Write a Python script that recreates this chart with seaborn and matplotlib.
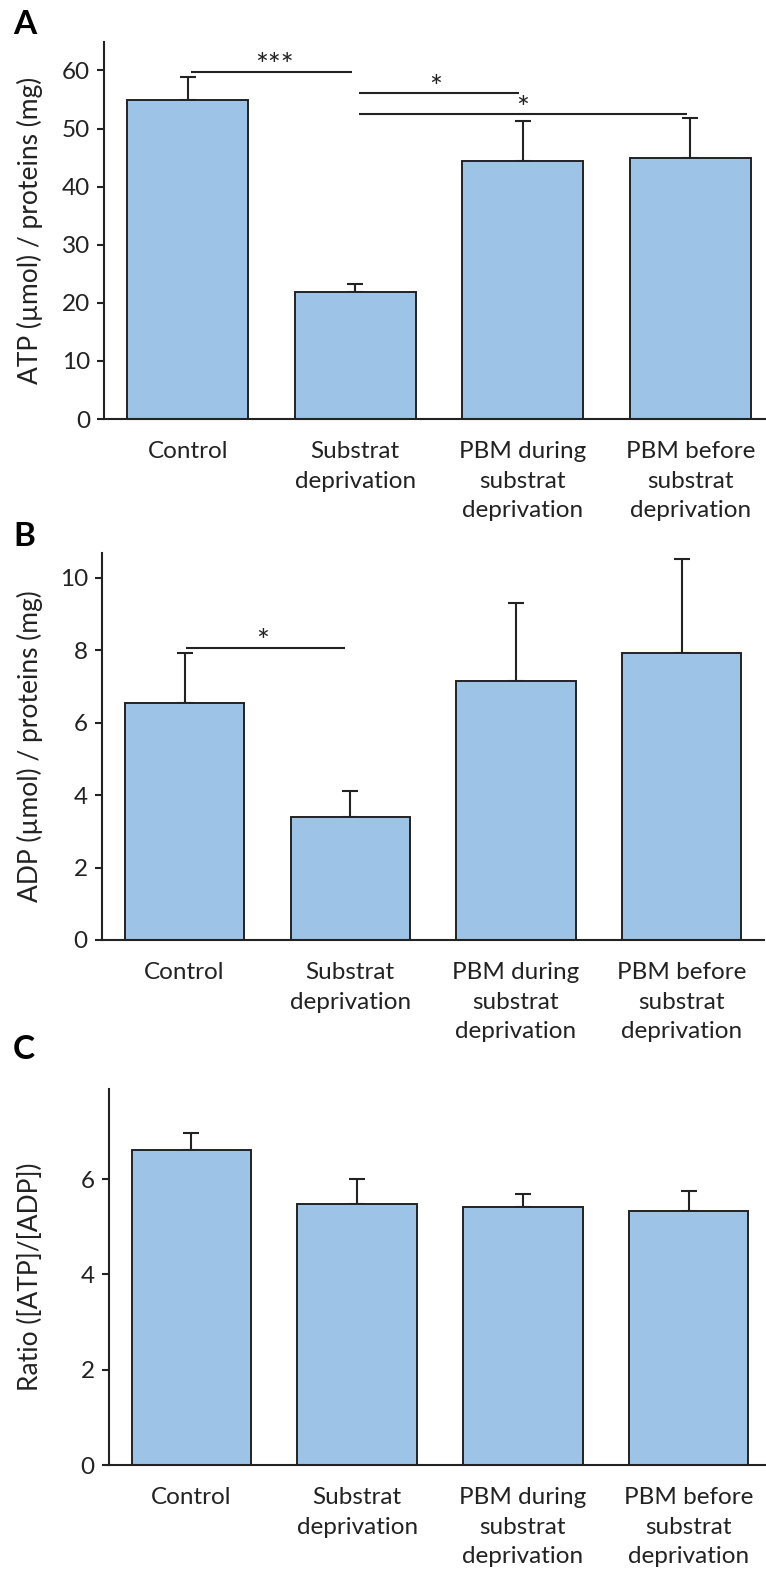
import matplotlib
matplotlib.use("Agg")
import matplotlib.pyplot as plt
import matplotlib.transforms as mtrans
import seaborn as sns
import numpy as np
import pandas as pd

sns.set_style("white")
plt.rcParams['font.family'] = ['Lato', 'DejaVu Sans']

categories = ["Control", "Substrat\ndeprivation", "PBM during\nsubstrat\ndeprivation",
              "PBM before\nsubstrat\ndeprivation"]
atp_mean = [55.0, 21.9, 44.5, 44.9]
atp_err = [3.9, 1.4, 6.8, 6.9]
adp_mean = [6.55, 3.4, 7.16, 7.92]
adp_err = [1.38, 0.72, 2.14, 2.60]
ratio_mean = [6.60, 5.48, 5.42, 5.33]
ratio_err = [0.36, 0.53, 0.27, 0.41]

atp_ticks = [0, 10, 20, 30, 40, 50, 60]
adp_ticks = [0, 2, 4, 6, 8, 10]
ratio_ticks = [0, 2, 4, 6]

BAR = "#9DC3E6"
INK = "#222222"
W, H = 766, 1578
FS = 17.5

fig = plt.figure(figsize=(W / 100, H / 100), dpi=100)


def add_axes(left, top, bottom, right):
    return fig.add_axes([left / W, 1 - bottom / H, (right - left) / W, (bottom - top) / H])


def draw(ax, means, errs, ymax, ticks, ylabel):
    df = pd.DataFrame({"cat": categories, "val": means})
    sns.barplot(data=df, x="cat", y="val", ax=ax, color=BAR, saturation=1,
                width=0.72, edgecolor=INK, linewidth=1.4, errorbar=None, zorder=2)
    x = np.arange(len(means))
    ax.errorbar(x, means, yerr=[np.zeros(len(errs)), errs], fmt="none",
                ecolor=INK, elinewidth=1.5, capsize=6, capthick=1.5, zorder=1)
    ax.set_xlim(-0.5, 3.5)
    ax.set_ylim(0, ymax)
    ax.set_yticks(ticks)
    ax.set_xlabel("")
    ax.set_ylabel(ylabel, fontsize=19, color=INK)
    ax.yaxis.label.set_va("center")
    ax.yaxis.set_label_coords(30, 0.5, transform=mtrans.blended_transform_factory(
        mtrans.IdentityTransform(), ax.transAxes))
    for s in ["top", "right"]:
        ax.spines[s].set_visible(False)
    for s in ["left", "bottom"]:
        ax.spines[s].set_color(INK)
        ax.spines[s].set_linewidth(1.5)
    ax.tick_params(axis="y", length=5, width=1.5, color=INK, direction="out",
                   labelsize=FS, labelcolor=INK, pad=5, left=True)
    ax.tick_params(axis="x", length=0, labelsize=FS, labelcolor=INK, pad=16)
    for t in ax.get_xticklabels():
        t.set_linespacing(1.5)
    ax.set_facecolor("white")


def sig(ax, x0, x1, y, label, xs, ys):
    ax.plot([x0, x1], [y, y], color=INK, lw=1.5, solid_capstyle="butt", clip_on=False)
    ax.text(xs, ys, label, ha="center", va="center", fontsize=22, color=INK)


axA = add_axes(104, 42, 419, 774)
draw(axA, atp_mean, atp_err, 64.9, atp_ticks, "ATP (µmol) / proteins (mg)")
sig(axA, 0.02, 0.98, 59.8, "***", 0.515, 60.7)
sig(axA, 1.02, 1.98, 56.1, "*", 1.48, 57.0)
sig(axA, 1.02, 2.98, 52.5, "*", 2.0, 53.4)

axB = add_axes(101.7, 553, 940, 764.5)
draw(axB, adp_mean, adp_err, 10.68, adp_ticks, "ADP (µmol) / proteins (mg)")
sig(axB, 0.01, 0.97, 8.06, "*", 0.47, 8.22)

axC = add_axes(108.5, 1089, 1465, 771.5)
draw(axC, ratio_mean, ratio_err, 7.89, ratio_ticks, "Ratio ([ATP]/[ADP])")

for lab, yy in [("A", 10), ("B", 522), ("C", 1035)]:
    fig.text(13 / W, 1 - yy / H, lab, fontsize=24, fontweight="bold", color="black",
             ha="left", va="top")

fig.savefig("out.png", dpi=100, facecolor="white")
